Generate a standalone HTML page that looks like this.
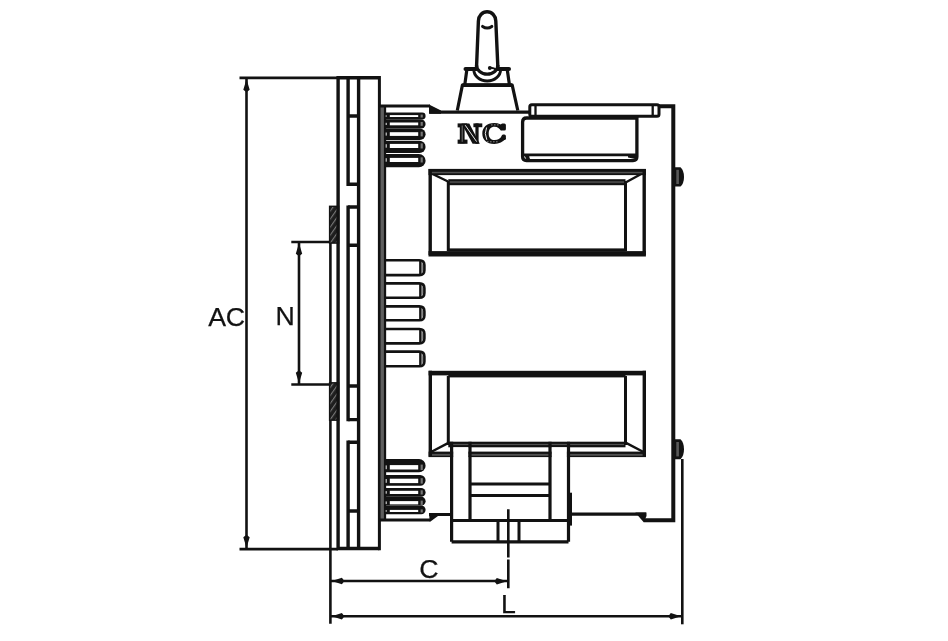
<!DOCTYPE html>
<html><head><meta charset="utf-8">
<style>
html,body{margin:0;padding:0;background:#fff;width:948px;height:641px;overflow:hidden}
svg{display:block}
</style></head><body>
<svg width="948" height="641" viewBox="0 0 948 641" style="filter:blur(0.45px)">
<defs>
<pattern id="hatch" width="4.6" height="4.6" patternUnits="userSpaceOnUse" patternTransform="rotate(35)">
<rect width="4.6" height="4.6" fill="#1e1e1e"/>
<rect width="1.1" height="4.6" fill="#7a7a7a"/>
</pattern>
</defs>
<rect width="948" height="641" fill="#fff"/>

<!-- ===== dimension lines ===== -->
<g stroke="#121212" stroke-width="2.6" fill="none">
<path d="M239.5 77.9H337M239.5 549.1H338M246.5 79V548"/>
<path d="M291.3 242H329M291.3 384.5H329M299 243V383.5"/>
<path d="M330.4 206V623.8"/>
<path d="M682.3 459V624.3"/>
<path d="M331 581H508M331 616.2H682"/>
</g>
<g fill="#121212">
<path d="M246.5 79.0L245.2 83.5L243.3 89.7L246.5 92.2L249.7 89.7L247.8 83.5Z"/>
<path d="M246.5 548.0L245.2 543.5L243.3 537.3L246.5 534.8L249.7 537.3L247.8 543.5Z"/>
<path d="M299.0 243.0L297.7 247.5L295.8 253.7L299.0 256.2L302.2 253.7L300.3 247.5Z"/>
<path d="M299.0 383.5L297.7 379.0L295.8 372.8L299.0 370.3L302.2 372.8L300.3 379.0Z"/>
<path d="M331.2 581.0L335.7 579.7L341.9 577.8L344.4 581.0L341.9 584.2L335.7 582.3Z"/>
<path d="M507.5 581.2L503.0 579.9L496.8 578.0L494.3 581.2L496.8 584.4L503.0 582.5Z"/>
<path d="M331.2 616.2L335.7 614.9L341.9 613.0L344.4 616.2L341.9 619.4L335.7 617.5Z"/>
<path d="M681.5 616.2L677.0 614.9L670.8 613.0L668.3 616.2L670.8 619.4L677.0 617.5Z"/>
</g>
<g fill="#121212" font-family="Liberation Sans, sans-serif" font-size="26.7" stroke="#121212" stroke-width="0.25">
<text x="208.3" y="326" letter-spacing="-0.4">AC</text>
<text x="275.6" y="324.8">N</text>
<text x="419.2" y="577.6">C</text>
<text x="500.9" y="612.8">L</text>
</g>

<!-- ===== panel hatch ===== -->
<rect x="329.6" y="206.3" width="9" height="36.8" fill="url(#hatch)" stroke="#121212" stroke-width="1.4"/>
<rect x="329.6" y="382.8" width="9" height="37.4" fill="url(#hatch)" stroke="#121212" stroke-width="1.4"/>

<!-- ===== flange ===== -->
<g stroke="#121212" stroke-width="3.4" fill="none">
<path d="M379.3 77.7H338.1V548.5H379.3"/>
<path d="M379.4 76V550.2" stroke-width="3"/>
<path d="M348.1 77.7V186M348.1 205.5V421.3M348.1 440.6V548.5"/>
<path d="M358.6 77.7V548.5"/>
<path d="M348.1 116H358.6M348.1 184.3H358.6M348.1 207H358.6M348.1 245.2H358.6M348.1 386H358.6M348.1 419.6H358.6M348.1 442.3H358.6M348.1 511H358.6"/>
</g>
<rect x="380.8" y="106" width="2.7" height="414" fill="#5e5e5e"/>
<path d="M384.8 106V520.5" stroke="#121212" stroke-width="2.7"/>

<!-- ===== body outline ===== -->
<g stroke="#121212" stroke-width="3" fill="none">
<path d="M379.3 105.9H430"/>
<path d="M429.5 112.1H529" stroke-width="3.4"/>
<path d="M659 106.2H673.3V520.2H643.7" stroke-width="4"/>
<path d="M646 514.1H570" stroke-width="3.2"/>
<path d="M379.3 520.1H430" stroke-width="3"/>
<path d="M429 514.5H451" stroke-width="3"/>
<path d="M570.5 492.7V525.6" stroke-width="3"/>
</g>
<g fill="#121212">
<path d="M429 104.5L441 110.4L441 113.8L429 113.8Z"/>
<path d="M429 513.2L438.7 515.6L429.8 522Z"/>
<path d="M635.3 512.4L646.5 512.4L646.5 516L643.7 522.2Z"/>
</g>
<!-- knobs -->
<path d="M674 167.3L680.5 167.3Q684 170.5 684 176.9Q684 183.3 680.5 186.6L674 186.6Z" fill="#121212"/>
<rect x="676.3" y="169.8" width="2.6" height="14.2" fill="#5a5a5a"/>
<path d="M674 439.3L680.5 439.3Q684 442.5 684 449.3Q684 456.1 680.5 459.3L674 459.3Z" fill="#121212"/>
<rect x="676.3" y="442" width="2.6" height="14.4" fill="#5a5a5a"/>

<!-- ===== switch ===== -->
<g stroke="#121212" stroke-width="3.2" fill="none" stroke-linejoin="round">
<path d="M457.3 110.5L462.4 85.1H512.2L517.8 110.5"/>
<path d="M462.4 85.1H512.2" stroke-width="3.6"/>
<path d="M464.8 84.6L466.8 70M507.3 70L509.4 84.6"/>
<path d="M465.5 68.9H509" stroke-width="4" stroke-linecap="round"/>
</g>
<path d="M476.5 68L478.4 21A8.7 9.2 0 0 1 495.8 21L497.9 65A10.7 9.2 0 0 1 476.5 65Z" fill="#fff"/>
<g stroke="#121212" fill="none">
<path d="M473.8 69.5A13.4 11.5 0 0 0 500.6 69.5" stroke-width="2.9"/>
<path d="M476.5 68L478.4 21A8.7 9.2 0 0 1 495.8 21L497.9 68" stroke-width="3.4"/>
<path d="M476.5 65A10.7 9.2 0 0 0 497.9 65" stroke-width="3.2"/>
</g>
<path d="M482.6 26.4Q487.2 29.6 491.8 26.4" stroke="#121212" stroke-width="3" fill="none" stroke-linecap="round"/>
<path d="M489.5 67.8Q493.5 67.2 496.5 70" stroke="#121212" stroke-width="2" fill="none"/>
<circle cx="489.8" cy="68" r="1.9" fill="#121212"/>

<!-- NC logo -->
<g fill="#121212">
<rect x="459.8" y="124" width="4.8" height="19.4"/>
<rect x="457.6" y="123.4" width="9.6" height="4"/>
<rect x="457.6" y="139.6" width="9.9" height="4.2"/>
<path d="M461.5 123.4H469.3L479.8 143.8H472.6Z"/>
<rect x="475.4" y="123.4" width="3.2" height="20.4"/>
<rect x="473.4" y="123.4" width="8.9" height="3.8"/>
<path d="M505.4 127.5C502.5 124.5 498.5 123 494.3 123C486.5 123 482.3 127.8 482.3 133.4C482.3 139.3 486.5 143.9 494.3 143.9C499 143.9 503 142 505.9 138.6L502.2 135.6C500.3 138.6 497.8 140.1 494.8 140.1C490.6 140.1 488.7 137.3 488.7 133.4C488.7 129.4 490.8 126.8 494.6 126.8C497.6 126.8 499.6 128.5 501 130.8Z"/>
<rect x="500.8" y="123.4" width="5.1" height="7.2" rx="1.5"/>
<rect x="501.6" y="134.6" width="4.3" height="5.4" rx="1.5"/>
</g>
<g stroke="#fff" fill="none">
<path d="M465.2 125.2L476.6 141.6" stroke-width="0.9"/>
<path d="M462.2 125.5V141.8" stroke-width="0.7" opacity="0.6"/>
<path d="M486.6 127.5Q483.9 133.4 486.8 139.8" stroke-width="0.9"/>
<path d="M491 124.9H500M487 141.8H499" stroke-width="0.7" stroke-dasharray="1.6 1.4" opacity="0.7"/>
</g>

<!-- ===== top-right box ===== -->
<g stroke="#121212" stroke-width="3" fill="#fff">
<rect x="529.8" y="104.8" width="129.2" height="11.5" rx="2"/>
<path d="M526.5 160.6Q522.6 160.6 522.6 156.8V122Q522.6 118 526.5 118H636.9V156.8Q636.9 160.6 633 160.6Z" stroke-width="3.3"/>
</g>
<g stroke="#121212" stroke-width="2.3" fill="none">
<path d="M535.5 105.5V116M652.7 105.5V116"/>
<path d="M524 154.8H636.9" stroke-width="2.7"/>
</g>
<path d="M524 154.5H529Q529 158 531 160.6H527Z" fill="#121212"/>
<path d="M628 155.5H637V159Q633 158.5 628 157.5Z" fill="#121212"/>

<!-- ===== upper window ===== -->
<g stroke="#121212" fill="none">
<path d="M430.2 169V255M644.2 169V255" stroke-width="3.4"/>
<path d="M448.3 181V251M625.5 181V251" stroke-width="3"/>
<path d="M431.5 173.5L448 181.5M643 173L626.5 182" stroke-width="2.4"/>
</g>
<rect x="428.5" y="168.9" width="217.4" height="6.2" fill="#121212"/>
<rect x="431.9" y="171.8" width="210.6" height="1.5" fill="#505050"/>
<rect x="448.3" y="179.2" width="177.2" height="6" fill="#121212"/>
<rect x="449.8" y="181.1" width="174.2" height="2" fill="#444"/>
<rect x="448.3" y="248.4" width="177.2" height="3" fill="#121212"/>
<rect x="428.5" y="251.1" width="217.4" height="5.4" fill="#121212"/>

<!-- ===== lower window ===== -->
<g stroke="#121212" fill="none">
<path d="M430.3 370.8V456.8M644.3 370.8V456.8" stroke-width="3.4"/>
<path d="M448.3 376V445M625.5 376V445" stroke-width="3"/>
<path d="M431.5 451.8L448 443.1M643 451.8L626.5 443.1" stroke-width="2.4"/>
</g>
<rect x="428.6" y="370.8" width="217.4" height="4.6" fill="#121212"/>
<rect x="448.3" y="375" width="177.2" height="2.4" fill="#121212"/>
<rect x="448.3" y="441.7" width="177.2" height="5.6" fill="#121212"/>
<rect x="449.8" y="443.9" width="174.2" height="1.2" fill="#505050"/>
<rect x="428.6" y="451.6" width="217.4" height="5.5" fill="#121212"/>
<rect x="432" y="453.9" width="210.6" height="1.9" fill="#505050"/>

<!-- ===== plug ===== -->
<rect x="453.2" y="447.3" width="15.2" height="72" fill="#fff"/>
<rect x="551.6" y="447.3" width="15.3" height="72" fill="#fff"/>
<rect x="453.2" y="521.9" width="113.7" height="18.3" fill="#fff"/>
<g stroke="#121212" stroke-width="3.2" fill="none">
<path d="M451.6 441.7V541.8M470 441.7V520.5M550 441.7V520.5M568.5 441.7V541.8"/>
<path d="M451.6 520.5H568.5M451.6 541.8H568.5"/>
<path d="M470 484.1H550M470 495.4H550" stroke-width="3"/>
<path d="M498 520.5V541.8M519 520.5V541.8" stroke-width="3"/>
<path d="M508.3 509.2V557.4M508.3 559.4V588.3" stroke-width="2.6"/>
</g>

<!-- ===== terminals ===== -->
<path d="M384.5 112.5H422.20A3.40 3.40 0 0 1 422.20 119.3H384.5Z" fill="#121212"/>
<rect x="389.8" y="115.1" width="28.4" height="1.90" fill="#fff"/>
<rect x="385.6" y="115.40" width="1.3" height="1.30" fill="#bbb"/>
<rect x="420.6" y="114.60" width="2.2" height="2.90" fill="#777"/>
<path d="M384.5 119.3H420.95A4.65 4.65 0 0 1 420.95 128.6H384.5Z" fill="#121212"/>
<rect x="389.8" y="122.5" width="28.4" height="2.80" fill="#fff"/>
<rect x="385.6" y="122.80" width="1.3" height="2.20" fill="#bbb"/>
<rect x="420.6" y="122.00" width="2.2" height="3.80" fill="#777"/>
<path d="M384.5 128.6H419.90A5.70 5.70 0 0 1 419.90 140.0H384.5Z" fill="#121212"/>
<rect x="389.8" y="132.2" width="28.4" height="3.70" fill="#fff"/>
<rect x="385.6" y="132.50" width="1.3" height="3.10" fill="#bbb"/>
<rect x="420.6" y="131.70" width="2.2" height="4.70" fill="#777"/>
<path d="M384.5 140.8H419.50A6.10 6.10 0 0 1 419.50 153.0H384.5Z" fill="#121212"/>
<rect x="389.8" y="143.9" width="28.4" height="4.10" fill="#fff"/>
<rect x="385.6" y="144.20" width="1.3" height="3.50" fill="#bbb"/>
<rect x="420.6" y="143.40" width="2.2" height="5.10" fill="#777"/>
<path d="M384.5 154H418.95A6.65 6.65 0 0 1 418.95 167.3H384.5Z" fill="#121212"/>
<rect x="389.8" y="157.9" width="28.4" height="4.10" fill="#fff"/>
<rect x="385.6" y="158.20" width="1.3" height="3.50" fill="#bbb"/>
<rect x="420.6" y="157.40" width="2.2" height="5.10" fill="#777"/>
<path d="M384.5 459.1H419.05A6.55 6.55 0 0 1 419.05 472.2H384.5Z" fill="#121212"/>
<rect x="389.8" y="465.1" width="28.4" height="4.40" fill="#fff"/>
<rect x="385.6" y="465.40" width="1.3" height="3.80" fill="#bbb"/>
<rect x="420.6" y="464.60" width="2.2" height="5.40" fill="#777"/>
<path d="M384.5 474.9H420.15A5.45 5.45 0 0 1 420.15 485.8H384.5Z" fill="#121212"/>
<rect x="389.8" y="478.7" width="28.4" height="4.40" fill="#fff"/>
<rect x="385.6" y="479.00" width="1.3" height="3.80" fill="#bbb"/>
<rect x="420.6" y="478.20" width="2.2" height="5.40" fill="#777"/>
<path d="M384.5 488H421.20A4.40 4.40 0 0 1 421.20 496.8H384.5Z" fill="#121212"/>
<rect x="389.8" y="490.8" width="28.4" height="3.20" fill="#fff"/>
<rect x="385.6" y="491.10" width="1.3" height="2.60" fill="#bbb"/>
<rect x="420.6" y="490.30" width="2.2" height="4.20" fill="#777"/>
<path d="M384.5 496.8H421.25A4.35 4.35 0 0 1 421.25 505.5H384.5Z" fill="#121212"/>
<rect x="389.8" y="501.1" width="28.4" height="3.30" fill="#fff"/>
<rect x="385.6" y="501.40" width="1.3" height="2.70" fill="#bbb"/>
<rect x="420.6" y="500.60" width="2.2" height="4.30" fill="#777"/>
<path d="M384.5 505.5H421.25A4.35 4.35 0 0 1 421.25 514.2H384.5Z" fill="#121212"/>
<rect x="389.8" y="509.9" width="28.4" height="2.10" fill="#fff"/>
<rect x="385.6" y="510.20" width="1.3" height="1.50" fill="#bbb"/>
<rect x="420.6" y="509.40" width="2.2" height="3.10" fill="#777"/>

<!-- ===== pins ===== -->
<g fill="#888">
<path d="M421 261.6Q423.2 262.8 423.3 267.7Q423.2 272.6 421 273.8Z"/>
<path d="M421 284.7Q423.2 285.9 423.3 290.5Q423.2 295.2 421 296.4Z"/>
<path d="M421 307.7Q423.2 308.9 423.3 313.3Q423.2 317.7 421 318.9Z"/>
<path d="M421 330.3Q423.2 331.5 423.3 336.2Q423.2 340.9 421 342.1Z"/>
<path d="M421 352.9Q423.2 354.1 423.3 359.0Q423.2 363.8 421 365.0Z"/>
</g>
<g stroke="#121212" stroke-width="2.6" fill="none">
<path d="M385 260.3H419.3Q424.4 260.3 424.4 265.1V270.3Q424.4 275.1 419.3 275.1H385"/>
<path d="M385 283.4H419.3Q424.4 283.4 424.4 288.2V292.9Q424.4 297.7 419.3 297.7H385"/>
<path d="M385 306.4H419.3Q424.4 306.4 424.4 311.2V315.4Q424.4 320.2 419.3 320.2H385"/>
<path d="M385 329H419.3Q424.4 329 424.4 333.8V338.6Q424.4 343.4 419.3 343.4H385"/>
<path d="M385 351.6H419.3Q424.4 351.6 424.4 356.4V361.5Q424.4 366.3 419.3 366.3H385"/>
</g>
<g stroke="#121212" stroke-width="2.1" fill="none">
<path d="M420.2 260.8V274.6M420.2 283.9V297.2M420.2 306.9V319.7M420.2 329.5V342.9M420.2 352.1V365.8"/>
</g>

</svg>
</body></html>
